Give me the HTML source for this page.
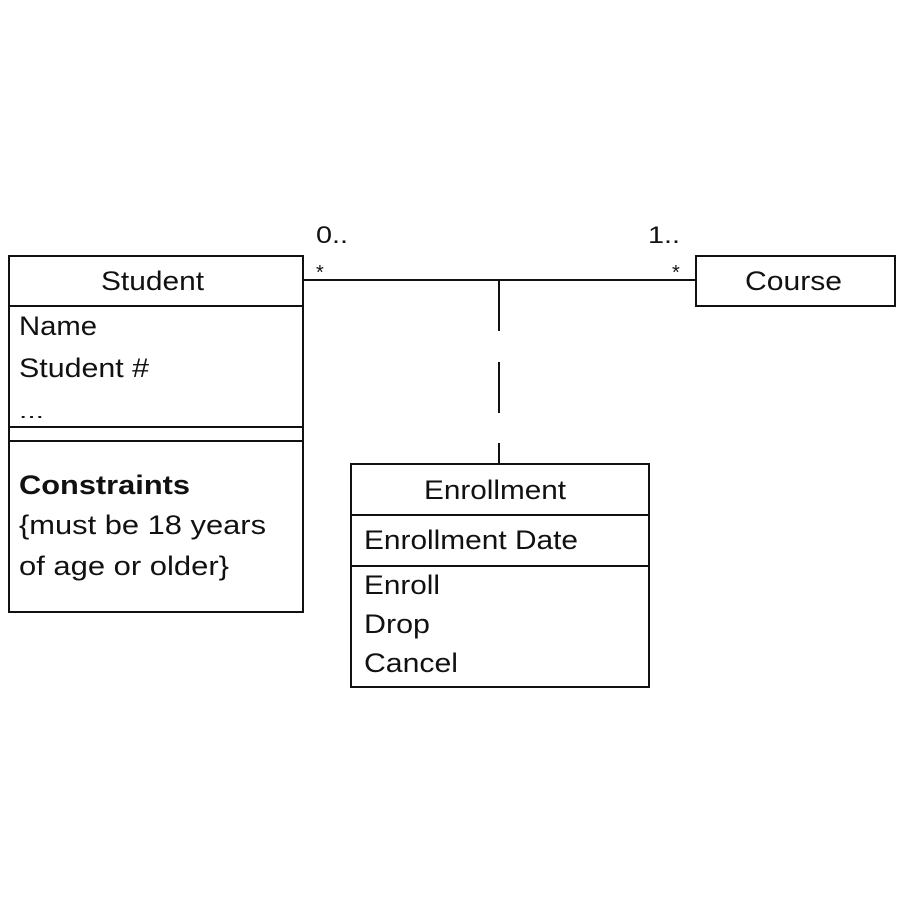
<!DOCTYPE html>
<html><head><meta charset="utf-8"><style>
html,body{margin:0;padding:0;background:#fff;}
svg text{font-family:"Liberation Sans",Arial,sans-serif;fill:#111;}
</style></head><body>
<svg width="900" height="900" viewBox="0 0 900 900" xmlns="http://www.w3.org/2000/svg">
<g fill="none" stroke="#111" stroke-width="2">
<rect x="9" y="256" width="294" height="356"/>
<line x1="9" y1="306" x2="303" y2="306"/>
<line x1="9" y1="427" x2="303" y2="427"/>
<line x1="9" y1="441" x2="303" y2="441"/>
<rect x="696" y="256" width="199" height="50"/>
<line x1="303" y1="280" x2="696" y2="280"/>
<line x1="499" y1="280" x2="499" y2="331"/>
<line x1="499" y1="362" x2="499" y2="413"/>
<line x1="499" y1="443" x2="499" y2="464"/>
<rect x="351" y="464" width="298" height="223"/>
<line x1="351" y1="515" x2="649" y2="515"/>
<line x1="351" y1="566" x2="649" y2="566"/>
</g>
<g font-size="27" lengthAdjust="spacingAndGlyphs">
<text x="101" y="290" textLength="103" lengthAdjust="spacingAndGlyphs">Student</text>
<text x="19" y="335" textLength="78" lengthAdjust="spacingAndGlyphs">Name</text>
<text x="19" y="377" textLength="130" lengthAdjust="spacingAndGlyphs">Student #</text>
<text x="19" y="418" font-size="18" textLength="25" lengthAdjust="spacingAndGlyphs">...</text>
<text x="19" y="494" font-weight="bold" textLength="171" lengthAdjust="spacingAndGlyphs">Constraints</text>
<text x="19" y="534" textLength="247" lengthAdjust="spacingAndGlyphs">{must be 18 years</text>
<text x="19" y="575" textLength="210" lengthAdjust="spacingAndGlyphs">of age or older}</text>
<text x="745" y="290" textLength="97" lengthAdjust="spacingAndGlyphs">Course</text>
<text x="424" y="499" textLength="142" lengthAdjust="spacingAndGlyphs">Enrollment</text>
<text x="364" y="549" textLength="214" lengthAdjust="spacingAndGlyphs">Enrollment Date</text>
<text x="364" y="594" textLength="76" lengthAdjust="spacingAndGlyphs">Enroll</text>
<text x="364" y="633" textLength="66" lengthAdjust="spacingAndGlyphs">Drop</text>
<text x="364" y="672" textLength="94" lengthAdjust="spacingAndGlyphs">Cancel</text>
</g>
<g font-size="24">
<text x="316" y="243" textLength="32" lengthAdjust="spacingAndGlyphs">0..</text>
<text x="648" y="243" textLength="32" lengthAdjust="spacingAndGlyphs">1..</text>
<text x="316" y="279" font-size="20">*</text>
<text x="672" y="279" font-size="20">*</text>
</g>
</svg>
</body></html>
